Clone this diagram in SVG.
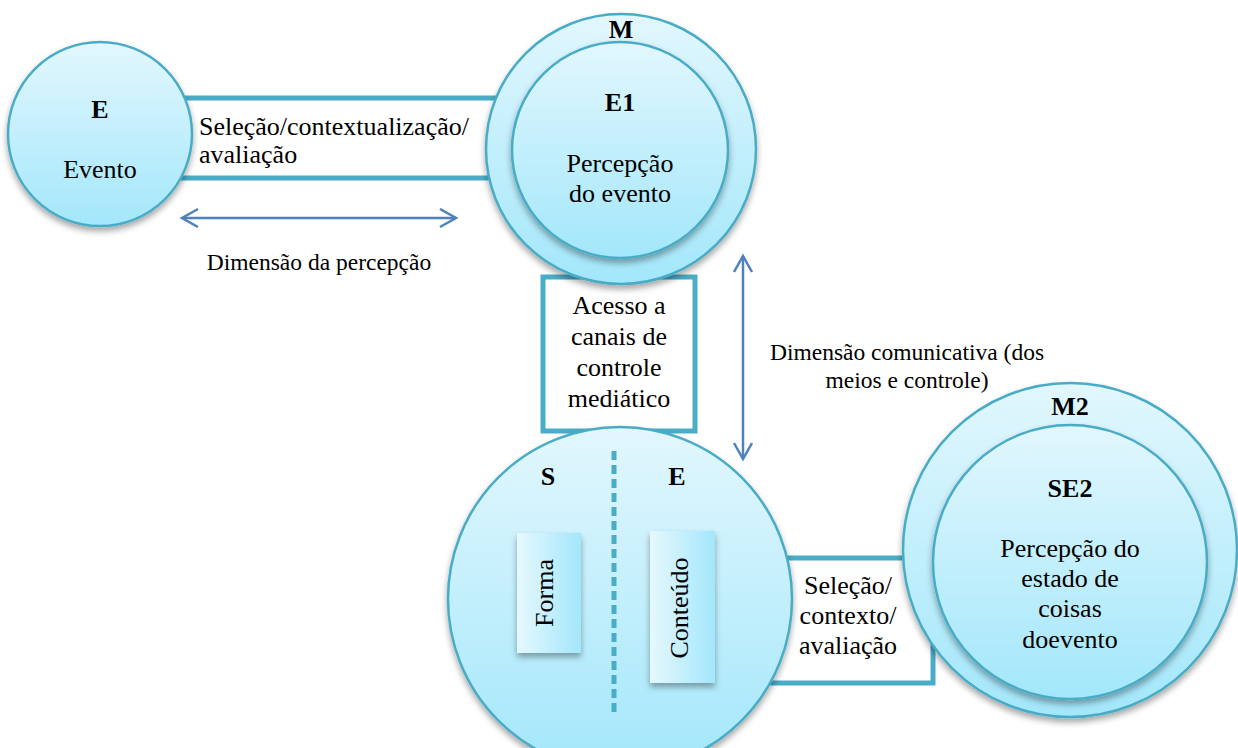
<svg xmlns="http://www.w3.org/2000/svg" width="1238" height="748" viewBox="0 0 1238 748" font-family="'Liberation Serif', 'Times New Roman', serif">
<defs>
<linearGradient id="cg" x1="0" y1="0" x2="0" y2="1">
<stop offset="0" stop-color="#e2f7fd"/>
<stop offset="1" stop-color="#a3e7fb"/>
</linearGradient>
<linearGradient id="bg" x1="0" y1="0" x2="1" y2="0">
<stop offset="0" stop-color="#e6f8fe"/>
<stop offset="1" stop-color="#a3e7fb"/>
</linearGradient>
<filter id="sh" x="-20%" y="-20%" width="140%" height="140%">
<feDropShadow dx="0" dy="4" stdDeviation="3" flood-color="#000" flood-opacity="0.35"/>
</filter>
<marker id="ah" markerUnits="userSpaceOnUse" markerWidth="22" markerHeight="22" refX="18" refY="10" orient="auto-start-reverse" viewBox="0 0 22 22">
<path d="M2,1 L18,10 L2,19" fill="none" stroke="#4f81bd" stroke-width="2.5"/>
</marker>
<style>
.circ{fill:url(#cg);stroke:#4aacc6;stroke-width:2.5}
.band{fill:#fff;stroke:#4aacc6;stroke-width:5}
.t{font-family:'Liberation Serif','Times New Roman',serif;font-size:26px;fill:#000;text-anchor:middle}
.l{text-anchor:start}
.b{font-weight:bold}
.s{font-size:23.5px}
.arr{stroke:#4f81bd;stroke-width:2.5;fill:none}
</style>
</defs>

<g id="connectors">
<rect class="band" x="150" y="98" width="360" height="80"/>
<rect class="band" x="766" y="558" width="167" height="125"/>
<line class="arr" x1="182" y1="218" x2="456" y2="218" marker-start="url(#ah)" marker-end="url(#ah)"/>
<line class="arr" x1="743" y1="256" x2="743" y2="459" marker-start="url(#ah)" marker-end="url(#ah)"/>
</g>

<g id="label-selecao1">
<text class="t l" x="199" y="135">Seleção/contextualização/</text>
<text class="t l" x="199" y="163">avaliação</text>
</g>
<g id="label-dimensao-percepcao">
<text class="t s" x="319" y="270">Dimensão da percepção</text>
</g>
<g id="label-dimensao-comunicativa">
<text class="t s" x="907" y="360">Dimensão comunicativa (dos</text>
<text class="t s" x="907" y="388">meios e controle)</text>
</g>

<g id="node-acesso">
<rect class="band" x="543" y="277" width="152" height="154"/>
<text class="t" x="619" y="314">Acesso a</text>
<text class="t" x="619" y="345">canais de</text>
<text class="t" x="619" y="376">controle</text>
<text class="t" x="619" y="407">mediático</text>
</g>

<g id="node-E">
<circle class="circ" cx="100" cy="134" r="92" filter="url(#sh)"/>
<text class="t b" x="100" y="118">E</text>
<text class="t" x="100" y="178">Evento</text>
</g>

<g id="node-M">
<circle class="circ" cx="621" cy="149" r="135" filter="url(#sh)"/>
<text class="t b" x="621" y="38">M</text>
<circle class="circ" cx="620" cy="150" r="108" filter="url(#sh)"/>
<text class="t b" x="620" y="111">E1</text>
<text class="t" x="620" y="172">Percepção</text>
<text class="t" x="620" y="202">do evento</text>
</g>

<g id="node-S">
<circle class="circ" cx="620" cy="599" r="172" filter="url(#sh)"/>
<line x1="614" y1="451" x2="614" y2="712" stroke="#4aacc6" stroke-width="5" stroke-dasharray="9,5"/>
<text class="t b" x="548" y="485">S</text>
<text class="t b" x="677" y="485">E</text>
<rect x="517" y="533" width="64" height="120" fill="url(#bg)" filter="url(#sh)"/>
<text class="t" transform="translate(553,593) rotate(-90)">Forma</text>
<rect x="650" y="531" width="65" height="152" fill="url(#bg)" filter="url(#sh)"/>
<text class="t" transform="translate(688,608) rotate(-90)">Conteúdo</text>
</g>

<g id="label-selecao2">
<text class="t" x="848" y="594">Seleção/</text>
<text class="t" x="848" y="624">contexto/</text>
<text class="t" x="848" y="654">avaliação</text>
</g>

<g id="node-M2">
<circle class="circ" cx="1070" cy="550" r="167" filter="url(#sh)"/>
<text class="t b" x="1070" y="415">M2</text>
<circle class="circ" cx="1070" cy="562" r="137" filter="url(#sh)"/>
<text class="t b" x="1070" y="497">SE2</text>
<text class="t" x="1070" y="557">Percepção do</text>
<text class="t" x="1070" y="587">estado de</text>
<text class="t" x="1070" y="617">coisas</text>
<text class="t" x="1070" y="648">doevento</text>
</g>
</svg>
